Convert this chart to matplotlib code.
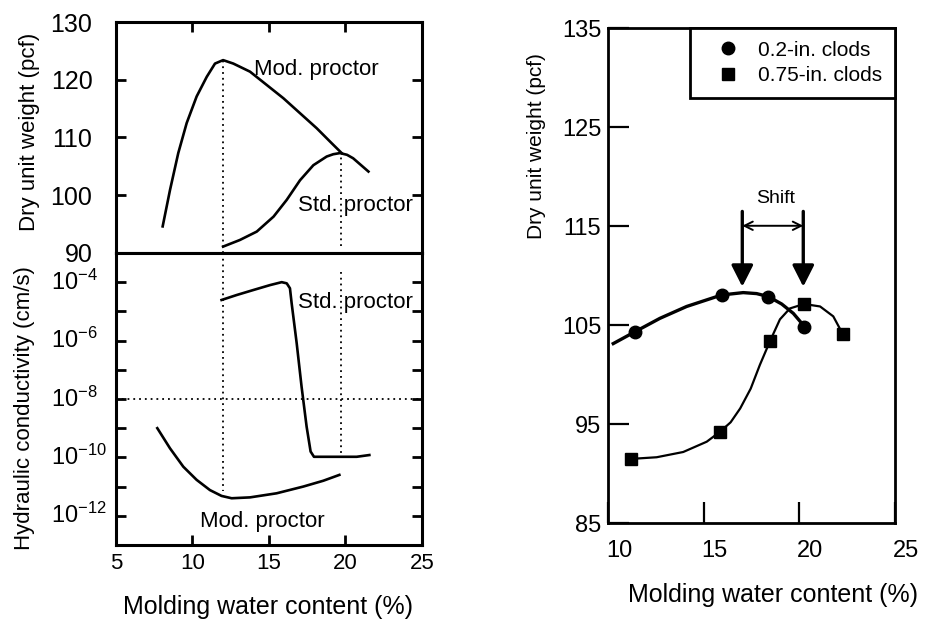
import matplotlib.pyplot as plt
import matplotlib.transforms as mtransforms
import numpy as np

plt.rcParams['font.family'] = ['Liberation Sans', 'DejaVu Sans']
plt.rcParams['mathtext.fontset'] = 'custom'
plt.rcParams['mathtext.rm'] = 'Liberation Sans'

# left top: compaction curves (water content %, dry unit weight pcf)
mod_w = [8.05, 8.53, 9.07, 9.62, 10.27, 10.93, 11.47, 12.0, 12.67, 13.76, 14.85,
         15.94, 17.03, 18.12, 19.1, 19.75]
mod_gd = [94.6, 100.9, 107.3, 112.5, 117.1, 120.5, 122.8, 123.4, 122.8, 121.4, 119.1,
          116.8, 114.2, 111.6, 109.0, 107.3]
std_w = [12.0, 13.1, 14.2, 15.3, 16.16, 17.03, 17.9, 18.77, 19.2, 19.64, 20.1, 20.5, 21.5]
std_gd = [91.1, 92.25, 93.7, 96.3, 99.2, 102.6, 105.2, 106.7, 107.1, 107.3, 107.0, 106.4, 104.1]

# left bottom: hydraulic conductivity, log10(k) with k in cm/s
std_kw = [11.9, 12.89, 13.97, 15.07, 15.83, 16.16, 16.37, 16.48, 16.81, 17.13, 17.46,
          17.72, 17.94, 19.2, 20.73, 21.56]
std_logk = [-4.61, -4.44, -4.27, -4.10, -4.0, -4.04, -4.21, -4.72, -6.09, -7.58, -8.95,
            -9.8, -9.98, -9.98, -9.98, -9.92]
mod_kw = [7.7, 8.53, 9.4, 10.27, 11.14, 11.9, 12.56, 13.76, 15.5, 17.24, 18.55, 19.6]
mod_logk = [-9.0, -9.69, -10.32, -10.77, -11.12, -11.32, -11.4, -11.37, -11.23, -11.0,
            -10.8, -10.6]
k_exps = [-12, -11, -10, -9, -8, -7, -6, -5, -4]

opt_w = [12.0, 19.7]      # optimum water contents (dotted guides)
k_limit = 1e-8            # horizontal dotted guide

# right: clod size tests
small_w = [11.4, 15.93, 18.37, 20.24]
small_gd = [104.35, 108.06, 107.9, 104.8]
large_w = [11.17, 15.85, 18.46, 20.24, 22.27]
large_gd = [91.5, 94.25, 103.4, 107.15, 104.1]

small_fit_w = [10.26, 11.4, 12.7, 14.1, 15.93, 17.06, 17.76, 18.37, 19.07, 19.68, 20.12]
small_fit_gd = [103.15, 104.35, 105.7, 106.9, 108.06, 108.3, 108.2, 107.9, 107.15, 106.2, 105.2]
large_fit_w = [11.17, 12.53, 13.92, 15.15, 15.85, 16.4, 16.9, 17.45, 17.93, 18.46, 18.98,
               19.5, 20.24, 21.08, 21.77, 22.27]
large_fit_gd = [91.5, 91.67, 92.2, 93.24, 94.25, 95.2, 96.6, 98.6, 101.0, 103.4, 105.6,
                106.7, 107.15, 106.9, 105.9, 104.1]

shift_from, shift_to = 17.01, 20.2

fig = plt.figure(figsize=(9.25, 6.2), dpi=100)
ax1 = fig.add_axes([0.1254, 0.592, 0.3308, 0.3725])
ax2 = fig.add_axes([0.1254, 0.121, 0.3308, 0.471])
ax3 = fig.add_axes([0.6576, 0.156, 0.31, 0.7984])

dots = (0, (1, 2.2))

# ---- top left
ax1.plot(mod_w, mod_gd, color='k', lw=1.9)
ax1.plot(std_w, std_gd, color='k', lw=1.9)
ax1.plot([opt_w[0], opt_w[0]], [90, 123.3], color='k', lw=1.3, ls=dots)
ax1.plot([opt_w[1], opt_w[1]], [91.2, 107.3], color='k', lw=1.3, ls=dots)
ax1.set_xlim(5, 25)
ax1.set_ylim(90, 130)
ax1.set_xticks([10, 15, 20])
ax1.set_yticks([90, 100, 110, 120, 130])
ax1.tick_params(axis='x', direction='in', top=True, bottom=False, labelbottom=False,
                length=7, width=2)
ax1.tick_params(axis='y', direction='in', right=True, length=7, width=2, labelsize=18, pad=17)
ax1.text(14.0, 121.7, 'Mod. proctor', fontsize=16, va='center')
ax1.text(16.9, 98.3, 'Std. proctor', fontsize=16, va='center')

# ---- bottom left
ax2.plot(std_kw, 10.0 ** np.array(std_logk), color='k', lw=1.9)
ax2.plot(mod_kw, 10.0 ** np.array(mod_logk), color='k', lw=1.9)
ax2.axhline(k_limit, color='k', lw=1.3, ls=dots)
ax2.plot([opt_w[0], opt_w[0]], [1e-3, 10 ** -11.15], color='k', lw=1.3, ls=dots)
ax2.plot([opt_w[1], opt_w[1]], [10 ** -3.64, 10 ** -9.95], color='k', lw=1.3, ls=dots)
ax2.set_yscale('log')
ax2.set_xlim(5, 25)
ax2.set_ylim(1e-13, 1e-3)
ax2.set_yticks([10.0 ** e for e in k_exps])
ax2.minorticks_off()
ax2.set_xticks([5, 10, 15, 20, 25])
ax2.tick_params(axis='x', direction='in', length=7, width=2, labelsize=16, pad=6)
ax2.tick_params(axis='y', direction='in', right=True, length=7, width=2, labelleft=False)
# left-aligned power labels, as in the original
ytr = ax2.get_yaxis_transform()
for e in k_exps:
    if e % 2 == 0:
        ax2.text(-0.212, 10.0 ** e, r'$\mathregular{10^{%d}}$' % e, transform=ytr,
                 ha='left', va='center', fontsize=17)
ax2.text(16.9, 10 ** -4.71, 'Std. proctor', fontsize=16, va='center')
ax2.text(10.5, 10 ** -12.2, 'Mod. proctor', fontsize=16, va='center')

for ax in (ax1, ax2):
    for s in ax.spines.values():
        s.set_linewidth(2.2)

fig.text(0.032, 0.788, 'Dry unit weight (pcf)', rotation=90, ha='center', va='center', fontsize=16)
fig.text(0.027, 0.342, 'Hydraulic conductivity (cm/s)', rotation=90, ha='center', va='center', fontsize=16)
fig.text(0.29, 0.021, 'Molding water content (%)', ha='center', va='center', fontsize=18)

# ---- right
ax3.plot(small_fit_w, small_fit_gd, color='k', lw=2.4)
ax3.plot(large_fit_w, large_fit_gd, color='k', lw=1.6)
ax3.plot(small_w, small_gd, 'o', color='k', ms=9, label='0.2-in. clods')
ax3.plot(large_w, large_gd, 's', color='k', ms=9, label='0.75-in. clods')
ax3.set_xlim(10, 25)
ax3.set_ylim(85, 135)
ax3.set_xticks([10, 15, 20, 25])
ax3.set_yticks([85, 95, 105, 115, 125, 135])
ax3.tick_params(direction='in', length=15, width=1.6, labelsize=17)
ax3.tick_params(axis='x', pad=12)
ax3.tick_params(axis='y', pad=5)
shift_lbl = mtransforms.ScaledTranslation(0.11, 0, fig.dpi_scale_trans)
for lbl in ax3.get_xticklabels():
    lbl.set_transform(lbl.get_transform() + shift_lbl)
for s in ax3.spines.values():
    s.set_linewidth(2)

head = '-|>,head_length=0.65,head_width=0.33'
for xs in (shift_from, shift_to):
    ax3.annotate('', xy=(xs, 108.9), xytext=(xs, 116.5),
                 arrowprops=dict(arrowstyle=head, color='k', lw=2.4,
                                 mutation_scale=20, shrinkA=0, shrinkB=0))
ax3.annotate('', xy=(shift_to, 115.05), xytext=(shift_from, 115.05),
             arrowprops=dict(arrowstyle='<->,head_length=0.5,head_width=0.25', color='k',
                             lw=1.4, mutation_scale=12, shrinkA=0, shrinkB=0))
ax3.text(18.77, 117.85, 'Shift', fontsize=14, ha='center', va='center')

leg = ax3.legend(loc='upper right', borderaxespad=0, fancybox=False, framealpha=1,
                 edgecolor='k', fontsize=15, handletextpad=0.2, borderpad=0.6,
                 labelspacing=0.3, handlelength=2.5)
leg.get_frame().set_linewidth(2)

fig.text(0.5795, 0.765, 'Dry unit weight (pcf)', rotation=90, ha='center', va='center', fontsize=15)
fig.text(0.8357, 0.040, 'Molding water content (%)', ha='center', va='center', fontsize=18)

fig.savefig('out.png', dpi=100)
